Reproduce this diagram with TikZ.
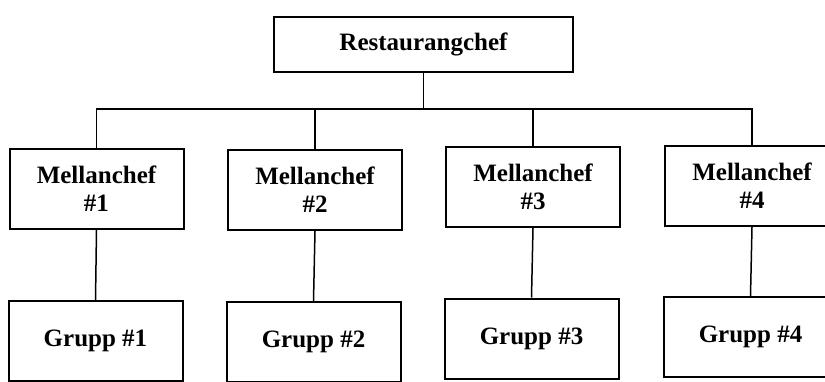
\documentclass[tikz,border=0pt]{standalone}
\usepackage{fontspec}
\setmainfont{Liberation Serif}

\begin{document}
\begin{tikzpicture}[x=0.5pt,y=-0.5pt,
	box/.style={draw, line width=1pt, inner sep=0pt, minimum width=87pt, minimum height=40pt, align=center, font=\fontsize{12.5}{14}\selectfont\bfseries},
	link/.style={line width=0.75pt}]

	\clip (0,0) rectangle (825,381);

	\node[box, line width=1.3pt, minimum width=149.5pt, minimum height=27.5pt] (chef) at (423.5,44.5) {Restaurangchef};

	\node[box] (mc1) at (96.5,189) {Mellanchef\\\#1};
	\node[box] (mc2) at (315,190) {Mellanchef\\\#2};
	\node[box] (mc3) at (533,187) {Mellanchef\\\#3};
	\node[box] (mc4) at (752,186) {Mellanchef\\\#4};

	\node[box] (g1) at (95.5,341) {Grupp \#1};
	\node[box] (g2) at (313.5,342) {Grupp \#2};
	\node[box] (g3) at (531.5,338.5) {Grupp \#3};
	\node[box] (g4) at (750.5,337) {Grupp \#4};

	\coordinate (bus) at (423.5,109);
	\draw[link] (chef.south) -- (bus);
	\draw[link] (mc1.north) |- (bus) -| (mc4.north);
	\draw[link] (mc2.north) -- (mc2.north |- bus);
	\draw[link] (mc3.north) -- (mc3.north |- bus);

	\draw[link] (mc1.south) -- (g1.north);
	\draw[link] (mc2.south) -- (g2.north);
	\draw[link] (mc3.south) -- (g3.north);
	\draw[link] (mc4.south) -- (g4.north);

\end{tikzpicture}
\end{document}
